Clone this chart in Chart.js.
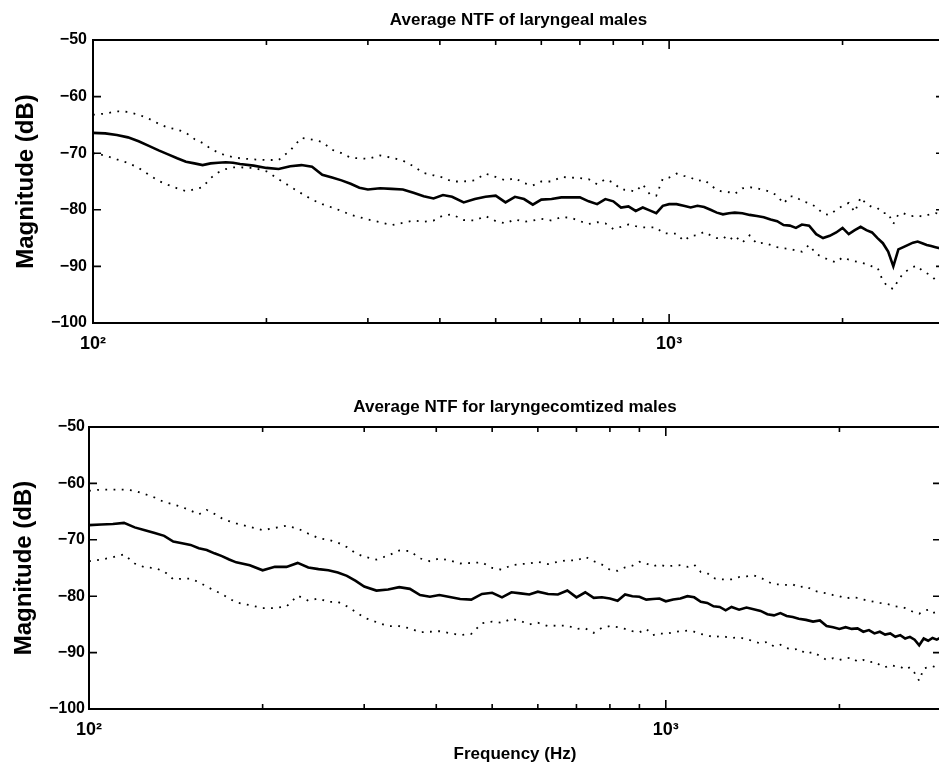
<!DOCTYPE html>
<html><head><meta charset="utf-8">
<script src="https://cdn.jsdelivr.net/npm/chart.js@4.4.1/dist/chart.umd.min.js"></script>
<style>
html,body{margin:0;padding:0;background:#fff;width:939px;height:768px;overflow:hidden;position:relative;}
canvas{position:absolute;left:0;display:block;}
</style></head><body>
<canvas id="c1" width="950" height="384" style="top:0"></canvas>
<canvas id="c2" width="950" height="384" style="top:384px"></canvas>
<script>
const freqs = [100,105,110,115,120,125,130,135,140,145,150,155,160,165,170,175,180,
190,200,210,220,230,240,250,260,270,280,290,300,
315,330,345,360,375,390,405,
420,440,460,480,500,520,540,560,580,600,
625,650,675,700,725,750,775,800,825,850,875,900,925,950,975,1000,
1030,1060,1090,1120,1150,1180,1210,1240,1270,1300,
1340,1380,1420,1460,1500,1540,1580,1620,1660,1700,
1750,1800,1850,1900,1950,2000,2050,2100,2150,2200,2250,2300,2350,2400,2450,2500,2550,2600,2650,2700,2750,2800,2850,2900,2950,3000];

const topMean = [-66.4,-66.5,-66.8,-67.2,-67.9,-68.7,-69.5,-70.2,-70.9,-71.5,-71.8,-72.1,-71.8,-71.7,-71.6,-71.7,-71.9,
-72.2,-72.6,-72.8,-72.3,-72.1,-72.4,-73.8,-74.3,-74.8,-75.4,-76.1,-76.4,
-76.2,-76.3,-76.4,-77.0,-77.6,-78.0,-77.4,
-77.7,-78.7,-78.1,-77.7,-77.5,-78.7,-77.7,-78.1,-79.1,-78.2,
-78.1,-77.8,-77.8,-77.8,-78.5,-79.0,-78.1,-78.5,-79.6,-79.4,-80.2,-79.6,-80.1,-80.6,-79.3,-79.0,
-79.0,-79.3,-79.6,-79.3,-79.5,-80.0,-80.5,-80.8,-80.6,-80.5,
-80.6,-80.9,-81.1,-81.3,-81.7,-82.0,-82.7,-82.8,-83.2,-82.6,
-82.8,-84.3,-85.0,-84.6,-84.0,-83.2,-84.3,-83.6,-83.0,-83.6,-84.0,-85.0,-85.9,-87.4,-90.0,-87.0,-86.6,-86.2,-85.8,-85.6,-85.9,-86.2,-86.4,-86.6,-86.8,-87.0];

const topUpper = [-63.2,-63.0,-62.6,-62.7,-63.2,-63.9,-64.8,-65.5,-65.8,-66.4,-67.5,-68.2,-69.2,-69.9,-70.4,-70.7,-70.9,
-71.1,-71.2,-71.2,-69.5,-67.3,-67.6,-68.0,-69.4,-70.0,-70.8,-70.9,-71.0,
-70.4,-70.8,-71.3,-72.3,-73.5,-73.9,-74.3,
-75.0,-75.0,-74.8,-73.6,-74.2,-74.8,-74.4,-75.3,-75.7,-75.0,
-75.0,-74.2,-74.3,-74.4,-74.6,-75.5,-74.6,-75.2,-76.4,-76.5,-76.8,-75.5,-77.2,-77.5,-74.5,-74.3,
-73.6,-74.0,-74.3,-74.9,-74.7,-75.6,-76.5,-76.8,-76.9,-77.2,
-76.2,-76.0,-76.2,-76.5,-76.8,-77.5,-78.9,-77.6,-77.7,-78.5,
-78.8,-79.5,-80.7,-80.9,-80.0,-79.3,-78.8,-80.4,-77.8,-79.0,-79.5,-79.7,-80.6,-80.6,-82.5,-80.8,-80.6,-81.0,-81.1,-81.0,-81.2,-81.0,-80.7,-80.6,-80.7,-80.7];

const topLower = [-70.0,-70.4,-71.1,-71.7,-72.6,-73.8,-74.9,-75.6,-76.2,-76.7,-76.4,-76.0,-74.4,-73.4,-72.8,-72.5,-72.5,
-72.6,-73.2,-74.6,-75.9,-77.1,-78.2,-79.0,-79.6,-80.2,-80.9,-81.3,-81.7,
-82.2,-82.7,-82.3,-81.9,-82.1,-81.9,-81.0,
-80.8,-81.8,-81.9,-81.1,-82.0,-82.4,-81.7,-82.1,-81.9,-81.6,
-81.9,-81.3,-81.4,-82.0,-82.5,-82.2,-82.4,-83.4,-83.0,-82.6,-82.9,-83.1,-83.1,-83.1,-84.1,-84.2,
-84.2,-85.5,-84.6,-84.5,-83.9,-84.5,-85.0,-84.7,-85.4,-84.6,
-85.8,-84.5,-86.0,-85.8,-86.2,-86.6,-86.8,-86.9,-87.2,-87.4,
-86.2,-87.8,-88.4,-88.9,-89.3,-88.4,-88.8,-89.1,-89.3,-89.6,-90.0,-90.2,-92.6,-93.6,-94.0,-92.4,-91.2,-90.6,-90.1,-89.9,-90.8,-91.2,-91.6,-92.4,-93.0,-93.0];

const botMean = [-67.4,-67.3,-67.2,-67.0,-67.8,-68.3,-68.8,-69.3,-70.3,-70.6,-70.9,-71.5,-71.8,-72.4,-72.9,-73.5,-74.0,
-74.5,-75.4,-74.8,-74.8,-74.1,-74.9,-75.2,-75.4,-75.8,-76.4,-77.3,-78.3,
-79.0,-78.8,-78.4,-78.7,-79.8,-80.1,-79.8,
-80.1,-80.5,-80.6,-79.6,-79.4,-80.2,-79.3,-79.5,-79.7,-79.2,
-79.6,-79.7,-79.0,-80.2,-79.3,-80.3,-80.2,-80.4,-80.8,-79.7,-80.0,-80.1,-80.6,-80.5,-80.4,-80.9,
-80.6,-80.4,-80.0,-80.2,-81.0,-81.2,-81.8,-81.9,-82.5,-81.9,
-82.4,-82.0,-82.3,-82.6,-83.2,-83.4,-83.0,-83.5,-83.7,-84.0,
-84.2,-84.5,-84.3,-85.3,-85.5,-85.8,-85.5,-85.8,-85.7,-86.3,-86.0,-86.6,-86.3,-86.8,-86.6,-87.2,-86.9,-87.5,-87.2,-87.7,-88.7,-87.5,-87.9,-87.4,-87.7,-87.3];

const botUpper = [-61.3,-61.1,-61.1,-61.1,-61.3,-61.9,-62.5,-63.3,-63.7,-64.2,-64.8,-65.5,-64.7,-65.4,-66.2,-66.7,-67.1,
-67.7,-68.3,-67.9,-67.5,-68.0,-68.9,-69.7,-70.0,-70.5,-71.3,-72.4,-73.0,
-73.5,-72.8,-71.9,-72.0,-73.3,-73.8,-73.3,
-73.6,-74.2,-74.1,-74.0,-75.0,-75.3,-74.5,-74.3,-74.2,-73.9,
-74.3,-73.9,-73.6,-73.7,-73.0,-73.8,-74.4,-75.3,-75.5,-74.9,-74.6,-73.9,-74.2,-74.7,-74.4,-74.7,
-74.6,-74.5,-74.8,-74.4,-75.7,-75.9,-76.8,-77.0,-77.0,-77.0,
-76.6,-76.5,-76.3,-76.7,-77.4,-77.9,-77.9,-78.0,-77.9,-78.4,
-78.2,-79.0,-79.3,-79.5,-79.8,-80.0,-80.4,-80.2,-80.3,-80.6,-80.8,-81.0,-81.2,-81.3,-81.5,-81.8,-81.9,-82.1,-82.5,-82.9,-83.1,-82.6,-82.4,-83.0,-82.8,-82.5];

const botLower = [-73.8,-73.5,-73.1,-72.6,-74.2,-74.9,-75.0,-75.6,-77.0,-76.9,-76.9,-77.5,-78.3,-79.0,-79.6,-80.4,-81.1,
-81.6,-82.1,-82.1,-81.8,-79.9,-80.8,-80.4,-81.0,-81.0,-81.8,-82.8,-83.8,
-84.6,-85.3,-85.3,-85.7,-86.4,-86.3,-86.2,
-86.5,-86.9,-86.7,-84.8,-84.5,-84.7,-84.0,-84.4,-85.0,-84.7,
-85.3,-85.2,-85.2,-85.8,-85.7,-86.5,-85.6,-85.3,-85.5,-85.8,-86.2,-86.4,-85.8,-86.9,-86.6,-86.7,
-86.4,-86.2,-86.1,-86.3,-86.7,-86.9,-87.3,-87.1,-87.2,-87.4,
-87.3,-87.6,-88.0,-88.4,-88.1,-88.9,-88.6,-89.2,-89.5,-89.3,
-90.2,-89.9,-90.6,-91.3,-91.0,-91.3,-91.0,-90.9,-91.6,-91.3,-91.7,-91.6,-92.2,-92.6,-92.2,-92.4,-92.5,-93.0,-92.6,-93.6,-95.0,-92.8,-92.6,-92.4,-92.7,-92.6];

const yTickVals = [-100,-90,-80,-70,-60,-50];
const xTickVals = [100,200,300,400,500,600,700,800,900,1000,2000,3000];
const xTickLabels = {100:'10\u00b2', 1000:'10\u00b3'};
const titles = ['Average NTF of laryngeal males','Average NTF for laryngecomtized males'];
const yTitle = 'Magnitude (dB)';
const xTitle = 'Frequency (Hz)';

const FONT = '"Liberation Sans", Arial, Helvetica, sans-serif';

const frame = {
  id:'frame',
  afterDatasetsDraw(chart){
    const {ctx, chartArea:a, scales:{x,y}} = chart;
    ctx.save();
    ctx.strokeStyle='#000';
    ctx.lineWidth=2;
    ctx.strokeRect(a.left, a.top, a.right-a.left, a.bottom-a.top);
    ctx.lineWidth=1.6;
    ctx.beginPath();
    yTickVals.forEach(v=>{
      const py=y.getPixelForValue(v);
      ctx.moveTo(a.left,py); ctx.lineTo(a.left+8,py);
      ctx.moveTo(a.right,py); ctx.lineTo(a.right-8,py);
    });
    xTickVals.forEach(v=>{
      const px=x.getPixelForValue(v);
      const L=(v===100||v===1000)?9:5;
      ctx.moveTo(px,a.bottom); ctx.lineTo(px,a.bottom-L);
      ctx.moveTo(px,a.top); ctx.lineTo(px,a.top+L);
    });
    ctx.stroke();
    ctx.restore();
  }
};

function pts(arr){ return freqs.map((f,i)=>({x:f,y:arr[i]})); }

function makeChart(id, title, mean, up, low, g){
  const dotted = {borderColor:'#000', borderWidth:1.8, borderDash:[1.8,6.4], pointRadius:0, fill:false, tension:0};
  new Chart(document.getElementById(id), {
    type:'line',
    data:{datasets:[
      {data:pts(mean), borderColor:'#000', borderWidth:2.6, pointRadius:0, fill:false, tension:0},
      Object.assign({data:pts(up)}, dotted),
      Object.assign({data:pts(low)}, dotted)
    ]},
    options:{
      responsive:false, animation:false, devicePixelRatio:1,
      layout:{padding:{left:0, right:g.right, top:0, bottom:0}},
      plugins:{
        legend:{display:false}, tooltip:{enabled:false},
        title:{display:true, text:title, fullSize:false, color:'#000',
          font:{family:FONT, size:17, weight:'bold'}, padding:{top:g.tpt, bottom:g.tpb}}
      },
      scales:{
        x:{type:'logarithmic', min:100, max:3000,
          grid:{display:false, drawTicks:false}, border:{display:false},
          afterBuildTicks:s=>{ s.ticks = xTickVals.map(v=>({value:v})); },
          afterFit:s=>{ s.height = g.xh; s.paddingRight = 0; s.paddingLeft = 0; },
          ticks:{autoSkip:false, maxRotation:0, minRotation:0, padding:10, color:'#000',
            font:{family:FONT, size:18, weight:'bold'}, callback:v=>xTickLabels[v]||''},
          title:{display:g.xt, text:xTitle, color:'#000', font:{family:FONT, size:17, weight:'bold'}, padding:{top:0,bottom:3}}
        },
        y:{min:-100, max:-50,
          grid:{display:false, drawTicks:false}, border:{display:false},
          afterBuildTicks:s=>{ s.ticks = yTickVals.map(v=>({value:v})); },
          afterFit:s=>{ s.width = g.yw; },
          ticks:{padding:g.ypad, color:'#000', font:{family:FONT, size:16, weight:'bold'},
            callback:v=>(v<0?'\u2212':'')+Math.abs(v)},
          title:{display:true, text:yTitle, color:'#000', font:{family:FONT, size:24, weight:'bold'}, padding:{top:g.ytp, bottom:0}}
        }
      }
    },
    plugins:[frame]
  });
}

makeChart('c1', titles[0], topMean, topUpper, topLower, {right:6, tpt:9.8, tpb:9.8, xh:61, yw:93, ypad:6, ytp:12, xt:false});
makeChart('c2', titles[1], botMean, botUpper, botLower, {right:9, tpt:12.8, tpb:9.8, xh:59, yw:89, ypad:4, ytp:10, xt:true});
</script>
</body></html>
